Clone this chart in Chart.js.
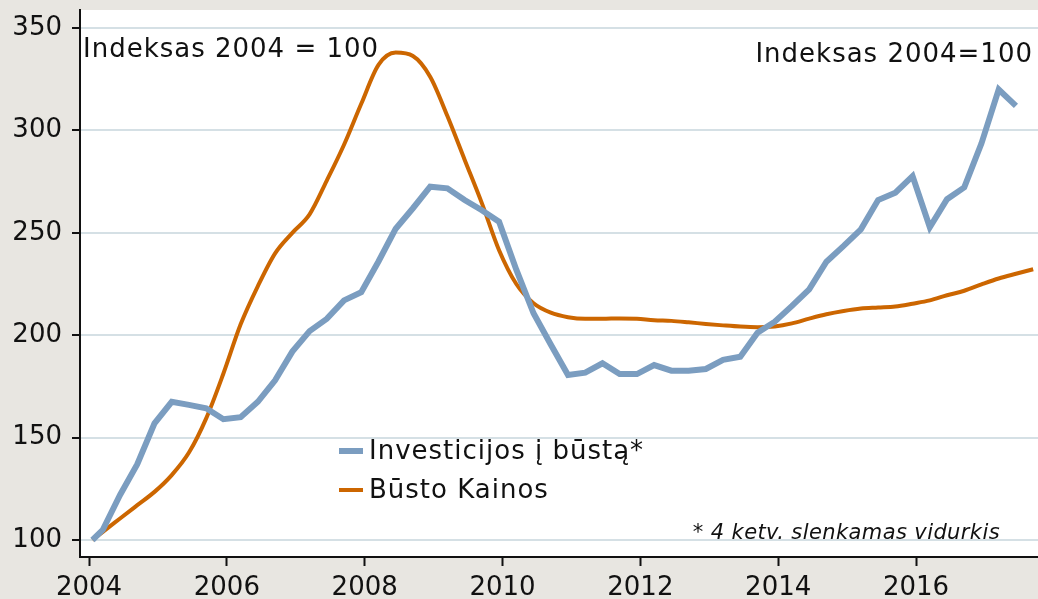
<!DOCTYPE html>
<html>
<head>
<meta charset="utf-8">
<script src="https://cdn.jsdelivr.net/npm/chart.js@4"></script>
<style>
  html, body { margin: 0; padding: 0; background: #e8e6e1; }
  #wrap { width: 1038px; height: 599px; position: relative; }
</style>
</head>
<body>
<div id="wrap"><canvas id="chart"></canvas></div>
<script>
// quarterly data, first quarter plotted a bit after the year line
const firstQuarter = 2004.2;
const baseYear = 2004.05;
const baseValue = 100;

const investicijos = [
  105, 122, 137, 157, 167.5, 166, 164.3, 159, 160, 167.5,
  178, 192, 202, 208, 217, 221, 236, 252, 262, 272.5,
  271.7, 266, 261, 255.4, 232, 210.7, 195.5, 180.6, 181.7, 186.3,
  181, 181, 185.4, 182.7, 182.7, 183.5, 188, 189.5, 201.2, 206.6,
  214.3, 222.4, 235.9, 243.6, 251.7, 266, 269.6, 277.7, 252.7, 266.4,
  272.2, 293.7, 320, 312
];

const bustoKainos = [
  104, 110.5, 117, 123.5, 131.7, 142.7, 159.4, 181.3, 205.3, 224,
  240, 250, 259, 275.5, 293, 313, 332, 338, 336.3, 326.2,
  307, 285.7, 264.5, 241.5, 225, 215.6, 211, 208.8, 208, 208,
  208.2, 208, 207.3, 207, 206.3, 205.5, 204.8, 204.2, 203.9, 204.3,
  205.8, 208.1, 210.2, 211.8, 213, 213.5, 214, 215.4, 217, 219.5,
  221.7, 224.8, 227.7, 230, 232.2
];

const seriesLabels = ["Investicijos į būstą*", "Būsto Kainos"];
const yearTicks = [2004, 2006, 2008, 2010, 2012, 2014, 2016];
const valueTicks = [100, 150, 200, 250, 300, 350];

function toPoints(values) {
  const pts = [{ x: baseYear, y: baseValue }];
  values.forEach((v, k) => pts.push({ x: firstQuarter + k * 0.25, y: v }));
  return pts;
}

const FONT = "'DejaVu Sans', Verdana, sans-serif";

const backgroundPlugin = {
  id: "background",
  beforeDraw(chart) {
    const { ctx, chartArea: a } = chart;
    ctx.save();
    ctx.fillStyle = "#e8e6e1";
    ctx.fillRect(0, 0, chart.width, chart.height);
    ctx.fillStyle = "#ffffff";
    ctx.fillRect(a.left, a.top, a.right - a.left, a.bottom - a.top);
    ctx.restore();
  },
};

const textPlugin = {
  id: "texts",
  afterDatasetsDraw(chart) {
    const ctx = chart.ctx;
    ctx.save();
    ctx.fillStyle = "#111";
    ctx.textBaseline = "alphabetic";
    ctx.font = "26px " + FONT;
    ctx.letterSpacing = "1px";
    ctx.textAlign = "left";
    ctx.fillText("Indeksas 2004 = 100", 83, 57);
    ctx.textAlign = "right";
    ctx.fillText("Indeksas 2004=100", 1033, 62);
    ctx.font = "italic 21px " + FONT;
    ctx.letterSpacing = "0.4px";
    ctx.fillText("* 4 ketv. slenkamas vidurkis", 1000, 539);

    // legend
    const rows = [451, 490];
    ctx.textAlign = "left";
    ctx.textBaseline = "middle";
    ctx.font = "26px " + FONT;
    ctx.letterSpacing = "1px";
    chart.data.datasets.forEach((ds, i) => {
      ctx.strokeStyle = ds.borderColor;
      ctx.lineWidth = ds.borderWidth;
      ctx.beginPath();
      ctx.moveTo(339, rows[i]);
      ctx.lineTo(363, rows[i]);
      ctx.stroke();
      ctx.fillStyle = "#111";
      ctx.fillText(ds.label, 369, rows[i] + 1);
    });
    ctx.restore();
  },
};

new Chart(document.getElementById("chart"), {
  type: "line",
  data: {
    datasets: [
      {
        label: seriesLabels[0],
        data: toPoints(investicijos),
        borderColor: "#7b9dc0",
        borderWidth: 6,
        tension: 0,
        borderJoinStyle: "miter",
        pointRadius: 0,
      },
      {
        label: seriesLabels[1],
        data: toPoints(bustoKainos),
        borderColor: "#cc6600",
        borderWidth: 4,
        cubicInterpolationMode: "monotone",
        pointRadius: 0,
      },
    ],
  },
  options: {
    responsive: true,
    maintainAspectRatio: false,
    animation: false,
    layout: { padding: { top: 10, right: 0, left: 0, bottom: 0 } },
    plugins: {
      legend: { display: false },
      tooltip: { enabled: false },
    },
    scales: {
      x: {
        type: "linear",
        min: 2003.869,
        max: 2017.77,
        afterBuildTicks(scale) {
          scale.ticks = yearTicks.map((v) => ({ value: v }));
        },
        afterFit(scale) {
          scale.height = 42;
          scale.paddingLeft = 0;
          scale.paddingRight = 0;
        },
        grid: {
          color: "rgba(0,0,0,0)",
          tickColor: "#111",
          tickLength: 9,
          tickWidth: 2,
        },
        border: { display: true, color: "#111", width: 2 },
        ticks: {
          color: "#111",
          font: { family: FONT, size: 26 },
          padding: 7,
          maxRotation: 0,
          callback: (v) => String(v),
        },
      },
      y: {
        min: 91.7,
        max: 358.8,
        afterBuildTicks(scale) {
          scale.ticks = valueTicks.map((v) => ({ value: v }));
        },
        afterFit(scale) {
          scale.width = 80;
          scale.paddingTop = 0;
          scale.paddingBottom = 0;
        },
        grid: {
          color: "#d5e0e5",
          lineWidth: 2,
          tickColor: "#111",
          tickLength: 8,
          tickWidth: 2,
        },
        border: { display: true, color: "#111", width: 2 },
        ticks: {
          color: "#111",
          font: { family: FONT, size: 26 },
          padding: 10,
        },
      },
    },
  },
  plugins: [backgroundPlugin, textPlugin],
});
</script>
</body>
</html>
